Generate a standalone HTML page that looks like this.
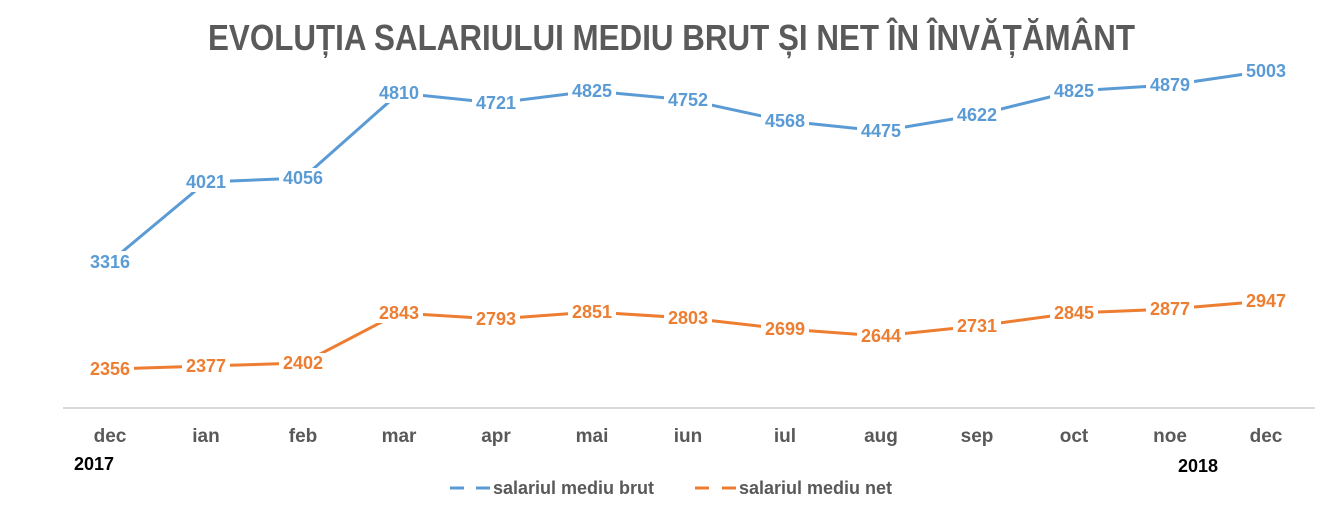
<!DOCTYPE html>
<html><head><meta charset="utf-8"><style>
html,body{margin:0;padding:0;background:#fff;}
svg{display:block;font-family:"Liberation Sans",sans-serif;}
</style></head><body>
<svg width="1344" height="518" viewBox="0 0 1344 518" xmlns="http://www.w3.org/2000/svg">
<rect width="1344" height="518" fill="#fff"/>
<text x="208" y="50" font-size="36" font-weight="bold" fill="#5a5a5a" textLength="927" lengthAdjust="spacingAndGlyphs">EVOLUȚIA SALARIULUI MEDIU BRUT ȘI NET ÎN ÎNVĂȚĂMÂNT</text>
<line x1="63" y1="408" x2="1315" y2="408" stroke="#d9d9d9" stroke-width="2"/>
<g font-size="19" font-weight="bold" fill="#595959" text-anchor="middle">
<text x="110" y="442">dec</text><text x="206" y="442">ian</text><text x="303" y="442">feb</text><text x="399" y="442">mar</text><text x="496" y="442">apr</text><text x="592" y="442">mai</text><text x="688" y="442">iun</text><text x="785" y="442">iul</text><text x="881" y="442">aug</text><text x="977" y="442">sep</text><text x="1074" y="442">oct</text><text x="1170" y="442">noe</text><text x="1266" y="442">dec</text>
</g>
<text x="74" y="470" font-size="18" font-weight="bold" fill="#000">2017</text>
<text x="1178" y="472" font-size="18" font-weight="bold" fill="#000">2018</text>
<polyline fill="none" stroke="#5b9bd5" stroke-width="3" points="110,262 206,182 303,178 399,93 496,103 592,91 688,100 785,121 881,131 977,115 1074,91 1170,85 1266,71"/>
<polyline fill="none" stroke="#ed7d31" stroke-width="3" points="110,369 206,366 303,363 399,313 496,319 592,312 688,318 785,329 881,336 977,326 1074,313 1170,309 1266,301"/>
<g font-size="18" font-weight="bold" text-anchor="middle">
<g fill="#fff">
<rect x="86" y="251" width="48" height="20"/><rect x="182" y="172" width="48" height="20"/><rect x="279" y="168" width="48" height="20"/><rect x="375" y="83" width="48" height="20"/><rect x="472" y="93" width="48" height="20"/><rect x="568" y="81" width="48" height="20"/><rect x="664" y="90" width="48" height="20"/><rect x="761" y="111" width="48" height="20"/><rect x="857" y="121" width="48" height="20"/><rect x="953" y="105" width="48" height="20"/><rect x="1050" y="81" width="48" height="20"/><rect x="1146" y="75" width="48" height="20"/><rect x="1242" y="61" width="48" height="20"/>
<rect x="86" y="359" width="48" height="20"/><rect x="182" y="356" width="48" height="20"/><rect x="279" y="353" width="48" height="20"/><rect x="375" y="303" width="48" height="20"/><rect x="472" y="309" width="48" height="20"/><rect x="568" y="302" width="48" height="20"/><rect x="664" y="308" width="48" height="20"/><rect x="761" y="319" width="48" height="20"/><rect x="857" y="326" width="48" height="20"/><rect x="953" y="316" width="48" height="20"/><rect x="1050" y="303" width="48" height="20"/><rect x="1146" y="299" width="48" height="20"/><rect x="1242" y="291" width="48" height="20"/>
</g>
<g fill="#5b9bd5">
<text x="110" y="268">3316</text><text x="206" y="188">4021</text><text x="303" y="184">4056</text><text x="399" y="99">4810</text><text x="496" y="109">4721</text><text x="592" y="97">4825</text><text x="688" y="106">4752</text><text x="785" y="127">4568</text><text x="881" y="137">4475</text><text x="977" y="121">4622</text><text x="1074" y="97">4825</text><text x="1170" y="91">4879</text><text x="1266" y="77">5003</text>
</g>
<g fill="#ed7d31">
<text x="110" y="375">2356</text><text x="206" y="372">2377</text><text x="303" y="369">2402</text><text x="399" y="319">2843</text><text x="496" y="325">2793</text><text x="592" y="318">2851</text><text x="688" y="324">2803</text><text x="785" y="335">2699</text><text x="881" y="342">2644</text><text x="977" y="332">2731</text><text x="1074" y="319">2845</text><text x="1170" y="315">2877</text><text x="1266" y="307">2947</text>
</g>
</g>
<line x1="450" y1="488" x2="464" y2="488" stroke="#5b9bd5" stroke-width="3"/>
<line x1="476" y1="488" x2="490" y2="488" stroke="#5b9bd5" stroke-width="3"/>
<text x="493" y="494" font-size="18" font-weight="bold" fill="#595959">salariul mediu brut</text>
<line x1="695" y1="488" x2="709" y2="488" stroke="#ed7d31" stroke-width="3"/>
<line x1="722" y1="488" x2="736" y2="488" stroke="#ed7d31" stroke-width="3"/>
<text x="739" y="494" font-size="18" font-weight="bold" fill="#595959">salariul mediu net</text>
</svg>
</body></html>
